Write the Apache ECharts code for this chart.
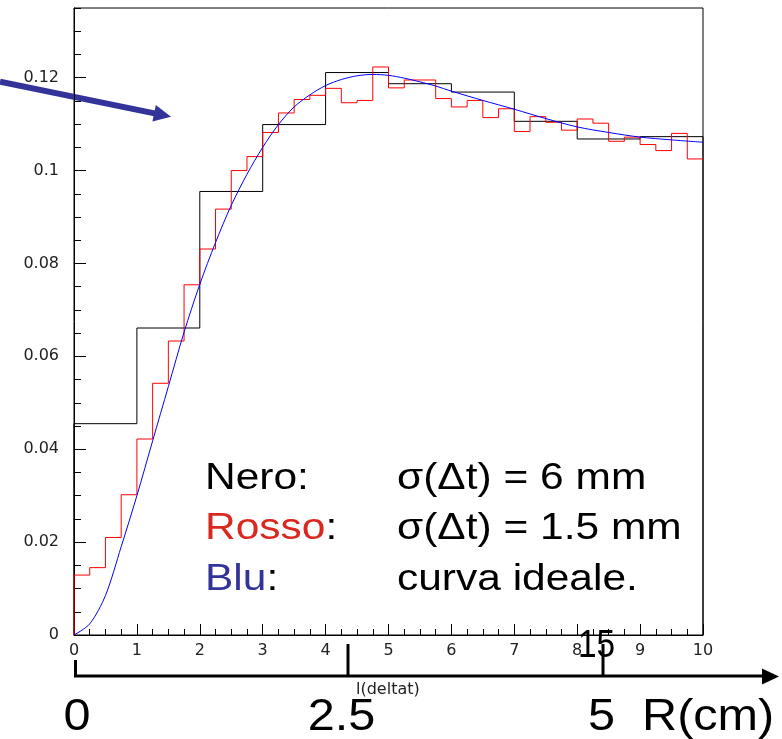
<!DOCTYPE html>
<html><head><meta charset="utf-8">
<script src="https://cdn.jsdelivr.net/npm/echarts@6/dist/echarts.min.js"></script>
<style>html,body{margin:0;padding:0;background:#fff}#c{width:782px;height:739px}</style>
</head><body><div id="c"></div>
<script>
// ---- data ----
const xTickLabels = ['0','1','2','3','4','5','6','7','8','9','10'];
const yTickLabels = ['0','0.02','0.04','0.06','0.08','0.1','0.12'];

// black histogram (sigma = 6 mm): bin edges and contents
const blackEdges = [0,1,2,3,4,5,6,7,8,9,10];
const blackValues = [0.0455,0.0661,0.0955,0.1099,0.1211,0.1187,0.1169,0.1106,0.1068,0.1073];

// red histogram (sigma = 1.5 mm)
const redEdges = [0,0.25,0.5,0.75,1,1.25,1.5,1.75,2,2.25,2.5,2.75,3,3.25,3.5,3.75,4,4.25,4.5,4.75,
  5,5.25,5.5,5.75,6,6.25,6.5,6.75,7,7.25,7.5,7.75,8,8.25,8.5,8.75,9,9.25,9.5,9.75,10];
const redValues = [0.0129,0.0145,0.0210,0.0302,0.0422,0.0542,0.0633,0.0754,0.0831,0.0917,
  0.1000,0.1030,0.1082,0.1124,0.1153,0.1162,0.1177,0.1146,0.1151,0.1223,
  0.1178,0.1195,0.1195,0.1155,0.1137,0.1151,0.1114,0.1133,0.1084,0.1116,
  0.1104,0.1087,0.1111,0.1102,0.1063,0.1072,0.1056,0.1043,0.1080,0.1025];

// blue ideal curve
const blueX = [0,0.25,0.5,0.75,1,1.25,1.5,1.75,2,2.25,2.5,2.75,3,3.25,3.5,3.75,4,4.25,4.5,4.75,
  5,5.25,5.5,5.75,6,6.5,7,7.5,8,8.5,9,9.5,10];
const blueY = [0,0.0024,0.0085,0.0190,0.0300,0.0418,0.0535,0.0652,0.0755,0.0845,0.0925,0.0992,
  0.1050,0.1099,0.1137,0.1163,0.1183,0.1196,0.1204,0.1207,0.1205,0.1199,0.1191,0.1182,0.1171,
  0.1151,0.1132,0.1112,0.1094,0.1082,0.1072,0.1066,0.1061];

// annotation texts
const legendNames = ['Nero:','{r|Rosso}:','{b|Blu}:'];
const legendDesc = ['σ(Δt) = 6 mm','σ(Δt) = 1.5 mm','curva ideale.'];
const rulerLabels = ['0','2.5','5  R(cm)'];

// ---- build ----
function stepPts(edges, vals, dropEnd){
  const p = [[edges[0],0]];
  vals.forEach((v,i)=>{ p.push([edges[i],v]); p.push([edges[i+1],v]); });
  if (dropEnd) p.push([edges[edges.length-1],0]);
  return p;
}
const chart = echarts.init(document.getElementById('c'), null, {renderer:'canvas'});
const axisCol = '#000';
const tickFont = {fontFamily:'DejaVu Sans', fontSize:16, color:'#222'};
const sans = '"Liberation Sans", Arial, sans-serif';

const legendRowsY = [479, 529.2, 580.2];
const graphics = [];
// arrow pointing into plot
graphics.push({type:'line', shape:{x1:0,y1:81.7,x2:157,y2:113.9}, style:{stroke:'#333399', lineWidth:6}});
graphics.push({type:'polygon', shape:{points:[[171,116.7],[155.8,104.9],[152.4,121.6]]}, style:{fill:'#333399'}});
// ruler at bottom
graphics.push({type:'line', shape:{x1:74,y1:676,x2:766,y2:676}, style:{stroke:'#000', lineWidth:3}});
graphics.push({type:'line', shape:{x1:75.5,y1:660,x2:75.5,y2:677}, style:{stroke:'#000', lineWidth:3}});
graphics.push({type:'line', shape:{x1:348,y1:644,x2:348,y2:677}, style:{stroke:'#000', lineWidth:3}});
graphics.push({type:'line', shape:{x1:603,y1:644,x2:603,y2:677}, style:{stroke:'#000', lineWidth:3}});
graphics.push({type:'polygon', shape:{points:[[779,676.5],[762,668.5],[762,684.5]]}, style:{fill:'#000'}});
// ruler labels
const rulerPos = [[77,717.5,'center'],[307.8,717.5,'left'],[588,717.5,'left']];
rulerLabels.forEach((t,i)=>{
  graphics.push({type:'text', x:rulerPos[i][0], y:rulerPos[i][1], scaleX:1.08,
    style:{text:t, font:'45px '+sans, fill:'#000', textAlign:rulerPos[i][2], align:rulerPos[i][2], textVerticalAlign:'middle', verticalAlign:'middle'}});
});
graphics.push({type:'text', x:578, y:647, scaleX:0.88,
  style:{text:'15', font:'38px '+sans, fill:'#000', textAlign:'left', align:'left', textVerticalAlign:'middle', verticalAlign:'middle'}});
graphics.push({type:'text', x:356, y:690,
  style:{text:'l(deltat)', font:'16px "DejaVu Sans"', fill:'#222', textAlign:'left', align:'left', textVerticalAlign:'middle', verticalAlign:'middle'}});
// legend text
legendNames.forEach((t,i)=>{
  graphics.push({type:'text', x:205, y:legendRowsY[i], scaleX:1.18,
    style:{text:t, font:'36px '+sans, fill:'#000', textAlign:'left', align:'left', textVerticalAlign:'middle', verticalAlign:'middle',
      rich:{r:{fill:'#d9281f', color:'#d9281f', font:'36px '+sans}, b:{fill:'#33339a', color:'#33339a', font:'36px '+sans}}}});
  graphics.push({type:'text', x:397, y:legendRowsY[i], scaleX:1.18,
    style:{text:legendDesc[i], font:'36px '+sans, fill:'#000', textAlign:'left', align:'left', textVerticalAlign:'middle', verticalAlign:'middle'}});
});

const option = {
  animation:false,
  backgroundColor:'#fff',
  grid:{left:74, right:79, top:8, bottom:104, show:true, borderColor:'#000', borderWidth:1, backgroundColor:'transparent'},
  xAxis:{type:'value', min:0, max:10, interval:1,
    axisLine:{show:true, onZero:false, lineStyle:{color:axisCol, width:1}},
    axisTick:{show:true, inside:true, length:11, lineStyle:{color:axisCol}},
    minorTick:{show:true, splitNumber:4, length:6, lineStyle:{color:axisCol}},
    splitLine:{show:false}, minorSplitLine:{show:false},
    axisLabel:Object.assign({margin:8, formatter:v=>xTickLabels[Math.round(v)] ?? ''}, tickFont)},
  yAxis:[
    {type:'value', min:0, max:0.135, interval:0.02, position:'left',
      axisLine:{show:true, onZero:false, lineStyle:{color:axisCol, width:1}},
      axisTick:{show:true, inside:true, length:12, lineStyle:{color:axisCol}},
      splitLine:{show:false},
      axisLabel:Object.assign({margin:15, showMaxLabel:false,
        formatter:v=>{const k=Math.round(v/0.02); return Math.abs(v-k*0.02)<1e-9 ? (yTickLabels[k] ?? '') : '';}}, tickFont)},
    {type:'value', min:0, max:0.135, interval:0.005, position:'left',
      axisLine:{show:false, onZero:false},
      axisTick:{show:true, inside:true, length:7, lineStyle:{color:axisCol}},
      splitLine:{show:false}, axisLabel:{show:false}}
  ],
  series:[
    {type:'line', name:'Nero', data:stepPts(blackEdges, blackValues, true), symbol:'none', lineStyle:{color:'#000', width:1}, z:3},
    {type:'line', name:'Rosso', data:stepPts(redEdges, redValues, false), symbol:'none', lineStyle:{color:'#ff0000', width:1}, z:4},
    {type:'line', name:'Blu', data:blueX.map((x,i)=>[x, blueY[i]]), symbol:'none', smooth:0.3, lineStyle:{color:'#0000ff', width:1}, z:5}
  ],
  graphic:graphics
};
chart.setOption(option);
</script>
</body></html>
